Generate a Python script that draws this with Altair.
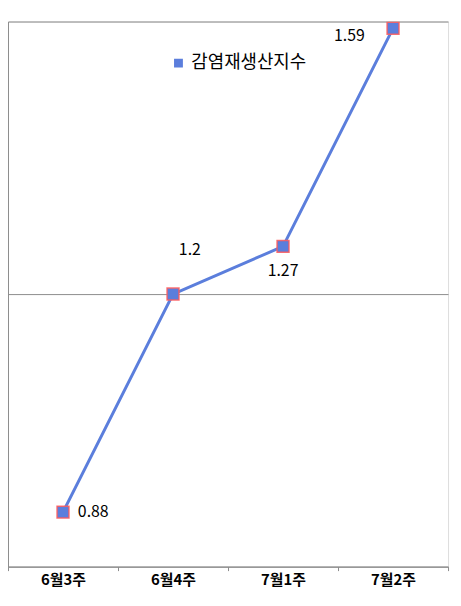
import altair as alt
import pandas as pd

weeks = ["6월3주", "6월4주", "7월1주", "7월2주"]
values = [0.88, 1.2, 1.27, 1.59]
labels = ["0.88", "1.2", "1.27", "1.59"]
series = "감염재생산지수"

df = pd.DataFrame({"week": weeks, "value": values, "label": labels, "series": [series] * len(weeks)})

BLUE = "#5B7EDC"
RED = "#FF5A5A"
GRAY = "#8C8C8C"
KFONT = "Noto Sans CJK KR"

x = alt.X("week:N", sort=weeks, title=None,
          scale=alt.Scale(type="band", paddingInner=0, paddingOuter=0),
          bandPosition=0.5,
          axis=alt.Axis(tickBand="extent", labelAngle=0, domainColor=GRAY, tickColor=GRAY,
                        tickSize=4, labelFont=KFONT, labelFontSize=15, labelFontWeight="bold",
                        labelColor="#000000", labelPadding=2, grid=False))
y = alt.Y("value:Q", title=None,
          scale=alt.Scale(domain=[0.8, 1.6], nice=False, zero=False),
          axis=alt.Axis(values=[0.8, 1.2, 1.6], labels=False, ticks=False, domainColor=GRAY,
                        grid=True, gridColor=GRAY, gridWidth=1, gridOpacity=1))

base = alt.Chart(df)

line = base.mark_line(strokeWidth=3).encode(
    x=x, y=y,
    color=alt.Color("series:N", title=None,
                    scale=alt.Scale(range=[BLUE]),
                    legend=alt.Legend(orient="none", legendX=163, legendY=33,
                                      symbolType="square", symbolFillColor=BLUE,
                                      symbolStrokeColor=RED, symbolStrokeWidth=1.5,
                                      symbolSize=55, labelFont=KFONT, labelFontSize=18,
                                      labelColor="#000000", labelOffset=4))
)

points = base.mark_point(shape="square", size=145, filled=True, fill=BLUE,
                         stroke=RED, strokeWidth=1.5, strokeOpacity=0.85, opacity=1).encode(x=x, y=y)

offsets = {
    "6월3주": dict(dx=15, dy=0, align="left"),
    "6월4주": dict(dx=17, dy=-44, align="center"),
    "7월1주": dict(dx=0, dy=25, align="center"),
    "7월2주": dict(dx=-44, dy=8, align="center"),
}
texts = []
for w in weeks:
    o = offsets[w]
    texts.append(
        base.transform_filter(alt.datum.week == w).mark_text(
            font=KFONT, fontSize=16, color="#000000", baseline="middle",
            align=o["align"], dx=o["dx"], dy=o["dy"]).encode(x=x, y=y, text="label:N")
    )

chart = alt.layer(line, points, *texts).properties(
    width=444, height=550,
    autosize=alt.AutoSizeParams(type="none"),
    padding={"left": 0, "top": 11, "right": 5, "bottom": 30},
).configure_view(stroke=None).configure(background="#ffffff")

chart.save("out.html", embed_options={"renderer": "svg", "actions": False})
